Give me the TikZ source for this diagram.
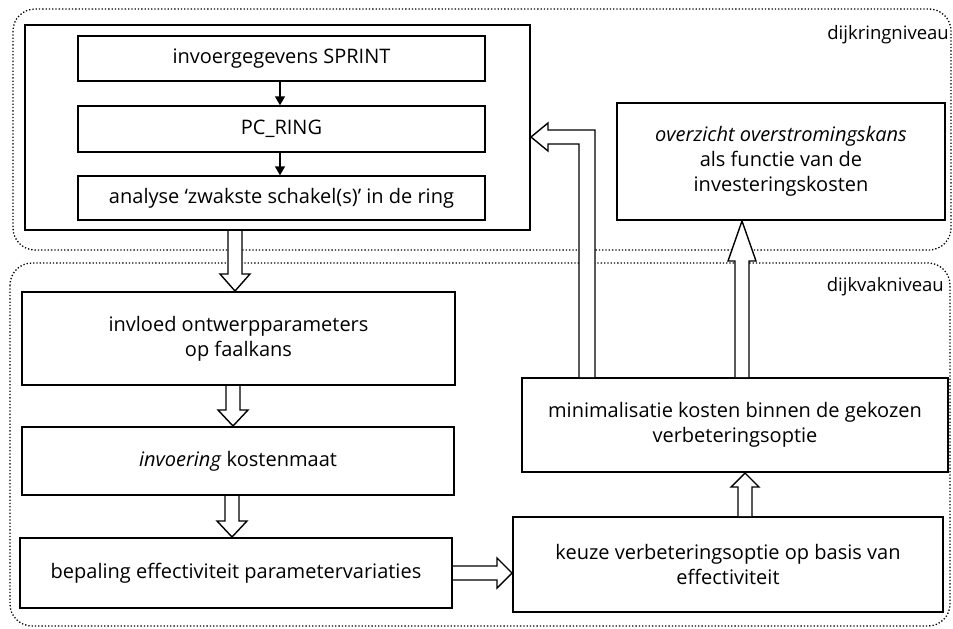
\documentclass[tikz,border=0pt]{standalone}
\usepackage{fontspec}
\setmainfont{Open Sans}
\usetikzlibrary{calc,arrows.meta}
\tikzset{
  x=1pt,y=-1pt,
  box/.style={draw,line width=2pt,inner sep=0pt,align=center,font=\fontsize{20}{25}\selectfont},
  ibox/.style={draw,line width=1.4pt,inner sep=0pt,align=center,font=\fontsize{20}{25}\selectfont},
  region/.style={draw,dotted,line width=1.3pt,rounded corners=22pt},
  lvl/.style={anchor=east,inner sep=0pt,font=\fontsize{18.5}{20}\selectfont},
  harrow/.style={draw,line width=1.4pt,fill=white,line join=miter},
  thinarrow/.style={draw,line width=1.4pt,-{Triangle[length=9pt,width=10pt]}}
}
\begin{document}
\begin{tikzpicture}
\useasboundingbox (0,0) rectangle (953,629);
% regions
\draw[region] (13,9) rectangle (951,250);
\draw[region] (10,263) rectangle (950,626);
\node[lvl] (l1) at (949,35) {dijkringniveau};
\node[lvl] (l2) at (944,287) {dijkvakniveau};
% top group
\node[box,minimum width=505pt,minimum height=205pt] (outer) at (277.5,127.5) {};
\node[ibox,minimum width=407pt,minimum height=45pt] (b1) at (281.5,58.5) {invoergegevens SPRINT};
\node[ibox,minimum width=407pt,minimum height=46pt] (b2) at (281.5,129) {PC\_RING};
\node[ibox,minimum width=407pt,minimum height=44pt] (b3) at (281.5,198) {analyse ‘zwakste schakel(s)’ in de ring};
\draw[thinarrow] (b1.south -| 280,0) -- (b2.north -| 280,0);
\draw[thinarrow] (b2.south -| 280,0) -- (b3.north -| 280,0);
\node[box,minimum width=328pt,minimum height=117pt] (ov) at (781,161.5) {\textit{overzicht overstromingskans}\\als functie van de\\investeringskosten};
% lower group
\node[box,minimum width=433pt,minimum height=93pt] (A) at (238.5,338.5) {invloed ontwerpparameters\\op faalkans};
\node[box,minimum width=432pt,minimum height=68pt] (B) at (238,461) {\textit{invoering} kostenmaat};
\node[box,minimum width=432pt,minimum height=70pt] (C) at (236,573) {bepaling effectiviteit parametervariaties};
\node[box,minimum width=426pt,minimum height=94pt] (M) at (735,425) {minimalisatie kosten binnen de gekozen\\verbeteringsoptie};
\node[box,minimum width=430pt,minimum height=95pt] (K) at (728,564.5) {keuze verbeteringsoptie op basis van\\effectiviteit};
% hollow arrows (down-pointing: head base above tip -> +; up-pointing: -)
\path let \p1=(outer.south), \p2=(A.north) in
  [harrow] (235-7,\y1) -- (235-7,\y2+17) -- (235-15,\y2+17) -- (235,\y2) -- (235+15,\y2+17) -- (235+7,\y2+17) -- (235+7,\y1);
\path let \p1=(A.south), \p2=(B.north) in
  [harrow] (233-7,\y1) -- (233-7,\y2+16) -- (233-15,\y2+16) -- (233,\y2) -- (233+15,\y2+16) -- (233+7,\y2+16) -- (233+7,\y1);
\path let \p1=(B.south), \p2=(C.north) in
  [harrow] (232-7,\y1) -- (232-7,\y2+16) -- (232-15,\y2+16) -- (232,\y2) -- (232+15,\y2+16) -- (232+7,\y2+16) -- (232+7,\y1);
\path let \p1=(C.east), \p2=(K.west) in
  [harrow] (\x1,573-7) -- (\x2-15,573-7) -- (\x2-15,573-15) -- (\x2,573) -- (\x2-15,573+15) -- (\x2-15,573+7) -- (\x1,573+7);
\path let \p1=(K.north), \p2=(M.south) in
  [harrow] (745-7,\y1) -- (745-7,\y2-14) -- (745-14,\y2-14) -- (745,\y2) -- (745+14,\y2-14) -- (745+7,\y2-14) -- (745+7,\y1);
\path let \p1=(M.north), \p2=(ov.south) in
  [harrow] (742-7,\y1) -- (742-7,\y2-40) -- (742-14,\y2-40) -- (742,\y2) -- (742+14,\y2-40) -- (742+7,\y2-40) -- (742+7,\y1);
\path let \p1=(M.north), \p2=(outer.east) in
  [harrow] (587+8,\y1) -- (587+8,137-7) -- (\x2+17,137-7) -- (\x2+17,137-14) -- (\x2,137) -- (\x2+17,137+14) -- (\x2+17,137+7) -- (587-8,137+7) -- (587-8,\y1);
\end{tikzpicture}
\end{document}
